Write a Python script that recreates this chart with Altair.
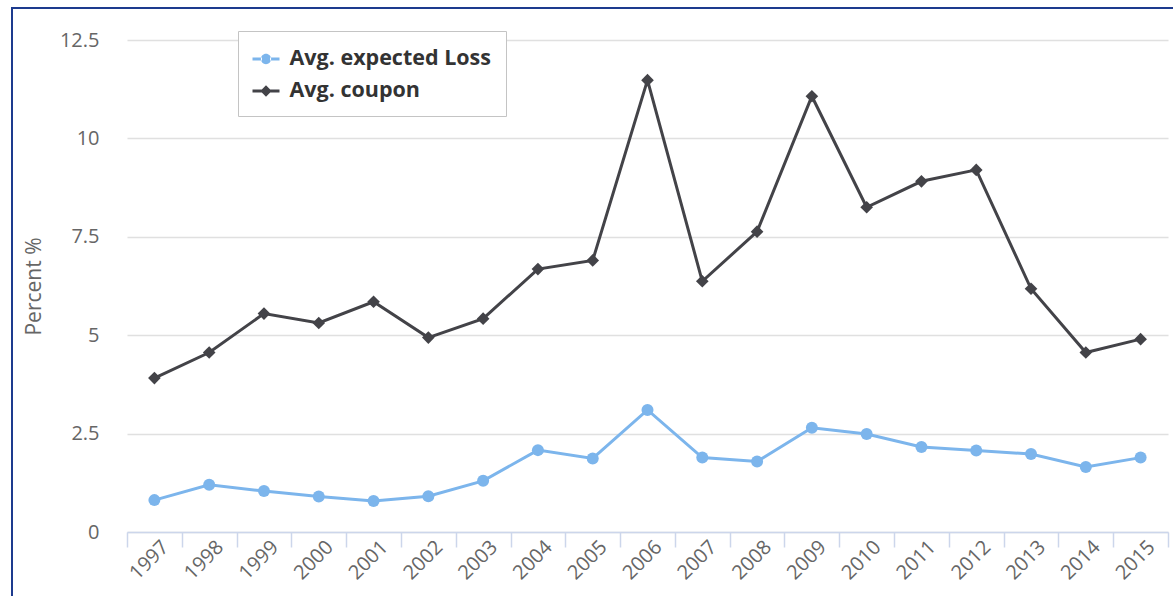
import altair as alt
import pandas as pd

# ---- data -------------------------------------------------------------
years = [str(y) for y in range(1997, 2016)]
expected_loss = [0.81, 1.20, 1.04, 0.90, 0.79, 0.91, 1.30, 2.08, 1.87, 3.10,
                 1.89, 1.79, 2.65, 2.49, 2.16, 2.07, 1.98, 1.65, 1.89]
coupon = [3.91, 4.56, 5.55, 5.31, 5.85, 4.94, 5.42, 6.68, 6.90, 11.48,
          6.37, 7.63, 11.07, 8.25, 8.91, 9.20, 6.18, 4.56, 4.90]
series_names = ["Avg. expected Loss", "Avg. coupon"]
series_colors = ["#7cb5ec", "#434348"]
series_markers = ["circle", "diamond"]
y_ticks = [0, 2.5, 5, 7.5, 10, 12.5]

FONT = "Open Sans"
W, H = 1041, 492

df = pd.DataFrame(
    {
        "year": years * 2,
        "value": expected_loss + coupon,
        "series": [series_names[0]] * len(years) + [series_names[1]] * len(years),
    }
)

# legend glyphs: a short line segment with the series marker in the middle
legend_shapes = [
    "M-1,-0.11H-0.3V0.11H-1Z M0.3,-0.11H1V0.11H0.3Z "
    "M-0.38,0A0.38,0.38 0 1,0 0.38,0A0.38,0.38 0 1,0 -0.38,0Z",
    "M-1,-0.11H-0.3V0.11H-1Z M0.3,-0.11H1V0.11H0.3Z "
    "M0,-0.42L0.42,0L0,0.42L-0.42,0Z",
]

x_enc = alt.X(
    "year:N",
    sort=years,
    bandPosition=0.5,
    scale=alt.Scale(type="band", paddingInner=0, paddingOuter=0),
    axis=alt.Axis(
        title=None,
        tickBand="extent",
        labelAngle=315,
        labelAlign="right",
        labelBaseline="alphabetic",
        labelFont=FONT,
        labelFontSize=20,
        labelColor="#666666",
        labelPadding=1,
        labelOffset=15,
        domainColor="#ccd6eb",
        domainWidth=1.5,
        tickColor="#ccd6eb",
        tickWidth=1.5,
        tickSize=15,
        grid=False,
    ),
)

y_enc = alt.Y(
    "value:Q",
    scale=alt.Scale(domain=[0, 12.5], nice=False, zero=True),
    axis=alt.Axis(
        title="Percent %",
        titleFont=FONT,
        titleFontSize=21,
        titleFontWeight="normal",
        titleColor="#666666",
        titleX=-93,
        titleBaseline="middle",
        values=y_ticks,
        format=".1~f",
        labelFont=FONT,
        labelFontSize=20,
        labelColor="#666666",
        labelPadding=28,
        ticks=False,
        domain=False,
        grid=True,
        gridColor="#e0e0e0",
        gridWidth=1.6,
    ),
)

base = alt.Chart(df)


def series_layers(i):
    """Line plus markers for one series."""
    sub = base.transform_filter(alt.datum.series == series_names[i])
    line = sub.mark_line(strokeWidth=3, color=series_colors[i]).encode(x=x_enc, y=y_enc)
    pts = sub.mark_point(
        shape=series_markers[i],
        filled=True,
        size=144 if i == 0 else 160,
        opacity=1,
        color=series_colors[i],
    ).encode(x=x_enc, y=y_enc)
    return [line, pts]


legend_spec = alt.Legend(
    title=None,
    orient="none",
    legendX=111,
    legendY=-9,
    fillColor="white",
    strokeColor="#c4c4c4",
    padding=14.5,
    rowPadding=8,
    symbolSize=729,
    symbolOpacity=1,
    symbolStrokeWidth=0,
    labelFont=FONT,
    labelFontSize=21.5,
    labelFontWeight="bold",
    labelColor="#333333",
    labelOffset=10,
    labelLimit=400,
)

# invisible points that carry the legend (colour + marker glyph)
legend_layer = base.mark_point(filled=True, opacity=0).encode(
    x=x_enc,
    y=y_enc,
    color=alt.Color(
        "series:N",
        scale=alt.Scale(domain=series_names, range=series_colors),
        legend=legend_spec,
    ),
    shape=alt.Shape(
        "series:N",
        scale=alt.Scale(domain=series_names, range=legend_shapes),
        legend=legend_spec,
    ),
)

# outer frame (top and left edges) around the figure
frame_data = alt.Chart(pd.DataFrame({"f": [0]}))
frame_top = frame_data.mark_rule(stroke="#1d3b8e", strokeWidth=2).encode(
    x=alt.value(-115), x2=alt.value(W + 5), y=alt.value(-32)
)
frame_left = frame_data.mark_rule(stroke="#1d3b8e", strokeWidth=2).encode(
    x=alt.value(-115), y=alt.value(-33), y2=alt.value(H + 64)
)

chart = (
    alt.layer(
        frame_top,
        frame_left,
        *series_layers(0),
        *series_layers(1),
        legend_layer,
    )
    .properties(
        width=W,
        height=H,
        padding={"left": 11, "top": 6, "right": 0, "bottom": 0},
        background="white",
    )
    .configure_view(stroke=None)
)

chart.save("out.html", embed_options={"renderer": "svg", "actions": False})
